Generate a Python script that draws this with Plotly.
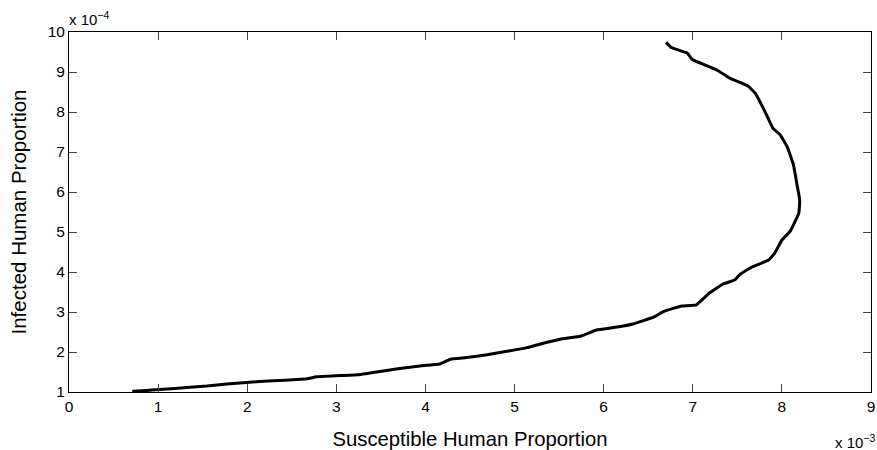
import plotly.graph_objects as go

# Curve (x in 1e-3 units, y in 1e-4 units)
susceptible = [0.71, 0.87, 1.06, 1.32, 1.55, 1.77, 1.99, 2.29, 2.56, 2.67, 2.78, 3.04, 3.27, 3.49,
               3.71, 3.94, 4.16, 4.28, 4.46, 4.69, 4.95, 5.14, 5.29, 5.51, 5.75, 5.92, 6.11, 6.33,
               6.56, 6.67, 6.78, 6.88, 7.04, 7.19, 7.34, 7.47, 7.53, 7.66, 7.85, 7.92, 8.00, 8.09,
               8.13, 8.19, 8.20, 8.17, 8.13, 8.06, 7.98, 7.90, 7.81, 7.70, 7.62, 7.42, 7.27, 6.99,
               6.94, 6.76, 6.70]
infected = [1.02, 1.04, 1.07, 1.11, 1.15, 1.20, 1.24, 1.28, 1.31, 1.33, 1.38, 1.41, 1.44, 1.51,
            1.59, 1.65, 1.70, 1.82, 1.86, 1.93, 2.03, 2.11, 2.20, 2.32, 2.40, 2.55, 2.61, 2.70,
            2.87, 3.01, 3.09, 3.15, 3.18, 3.48, 3.70, 3.80, 3.94, 4.12, 4.30, 4.47, 4.80, 5.01,
            5.18, 5.47, 5.80, 6.18, 6.68, 7.13, 7.43, 7.59, 8.01, 8.47, 8.65, 8.84, 9.05, 9.32,
            9.47, 9.61, 9.74]

x_ticks = list(range(0, 10))
y_ticks = list(range(1, 11))

FONT = "Liberation Sans, Arial, Helvetica, sans-serif"

fig = go.Figure()
fig.add_trace(go.Scatter(x=susceptible, y=infected, mode="lines",
                         line=dict(color="black", width=3, shape="spline", smoothing=0.3),
                         showlegend=False, hoverinfo="skip"))

axis_common = dict(showline=True, linecolor="black", linewidth=1, mirror="ticks",
                   ticks="inside", ticklen=8, tickcolor="#444", tickwidth=1,
                   showgrid=False, zeroline=False, automargin=False,
                   tickfont=dict(family=FONT, size=15.5, color="black"))

fig.update_layout(
    width=877, height=450,
    margin=dict(l=69, r=6, t=32, b=58),
    plot_bgcolor="white", paper_bgcolor="white",
    xaxis=dict(range=[0, 9], tickvals=x_ticks, ticktext=[str(v) for v in x_ticks],
               title=dict(text="Susceptible Human Proportion", standoff=19,
                          font=dict(family=FONT, size=20.3, color="black")),
               **axis_common),
    yaxis=dict(range=[1, 10], tickvals=y_ticks, ticktext=[str(v) for v in y_ticks],
               title=dict(text="Infected Human Proportion", standoff=15,
                          font=dict(family=FONT, size=20.5, color="black")),
               **axis_common),
    annotations=[
        dict(text="x 10<sup>\u22124</sup>", xref="paper", yref="paper", x=0, y=1,
             xanchor="left", yanchor="bottom", yshift=2, xshift=-2, showarrow=False,
             font=dict(family=FONT, size=15, color="black")),
        dict(text="x 10<sup>\u22123</sup>", xref="paper", yref="paper", x=1.007, y=0,
             xanchor="right", yanchor="top", yshift=-38, showarrow=False,
             font=dict(family=FONT, size=15, color="black")),
    ],
)

fig.write_html("out.html")
